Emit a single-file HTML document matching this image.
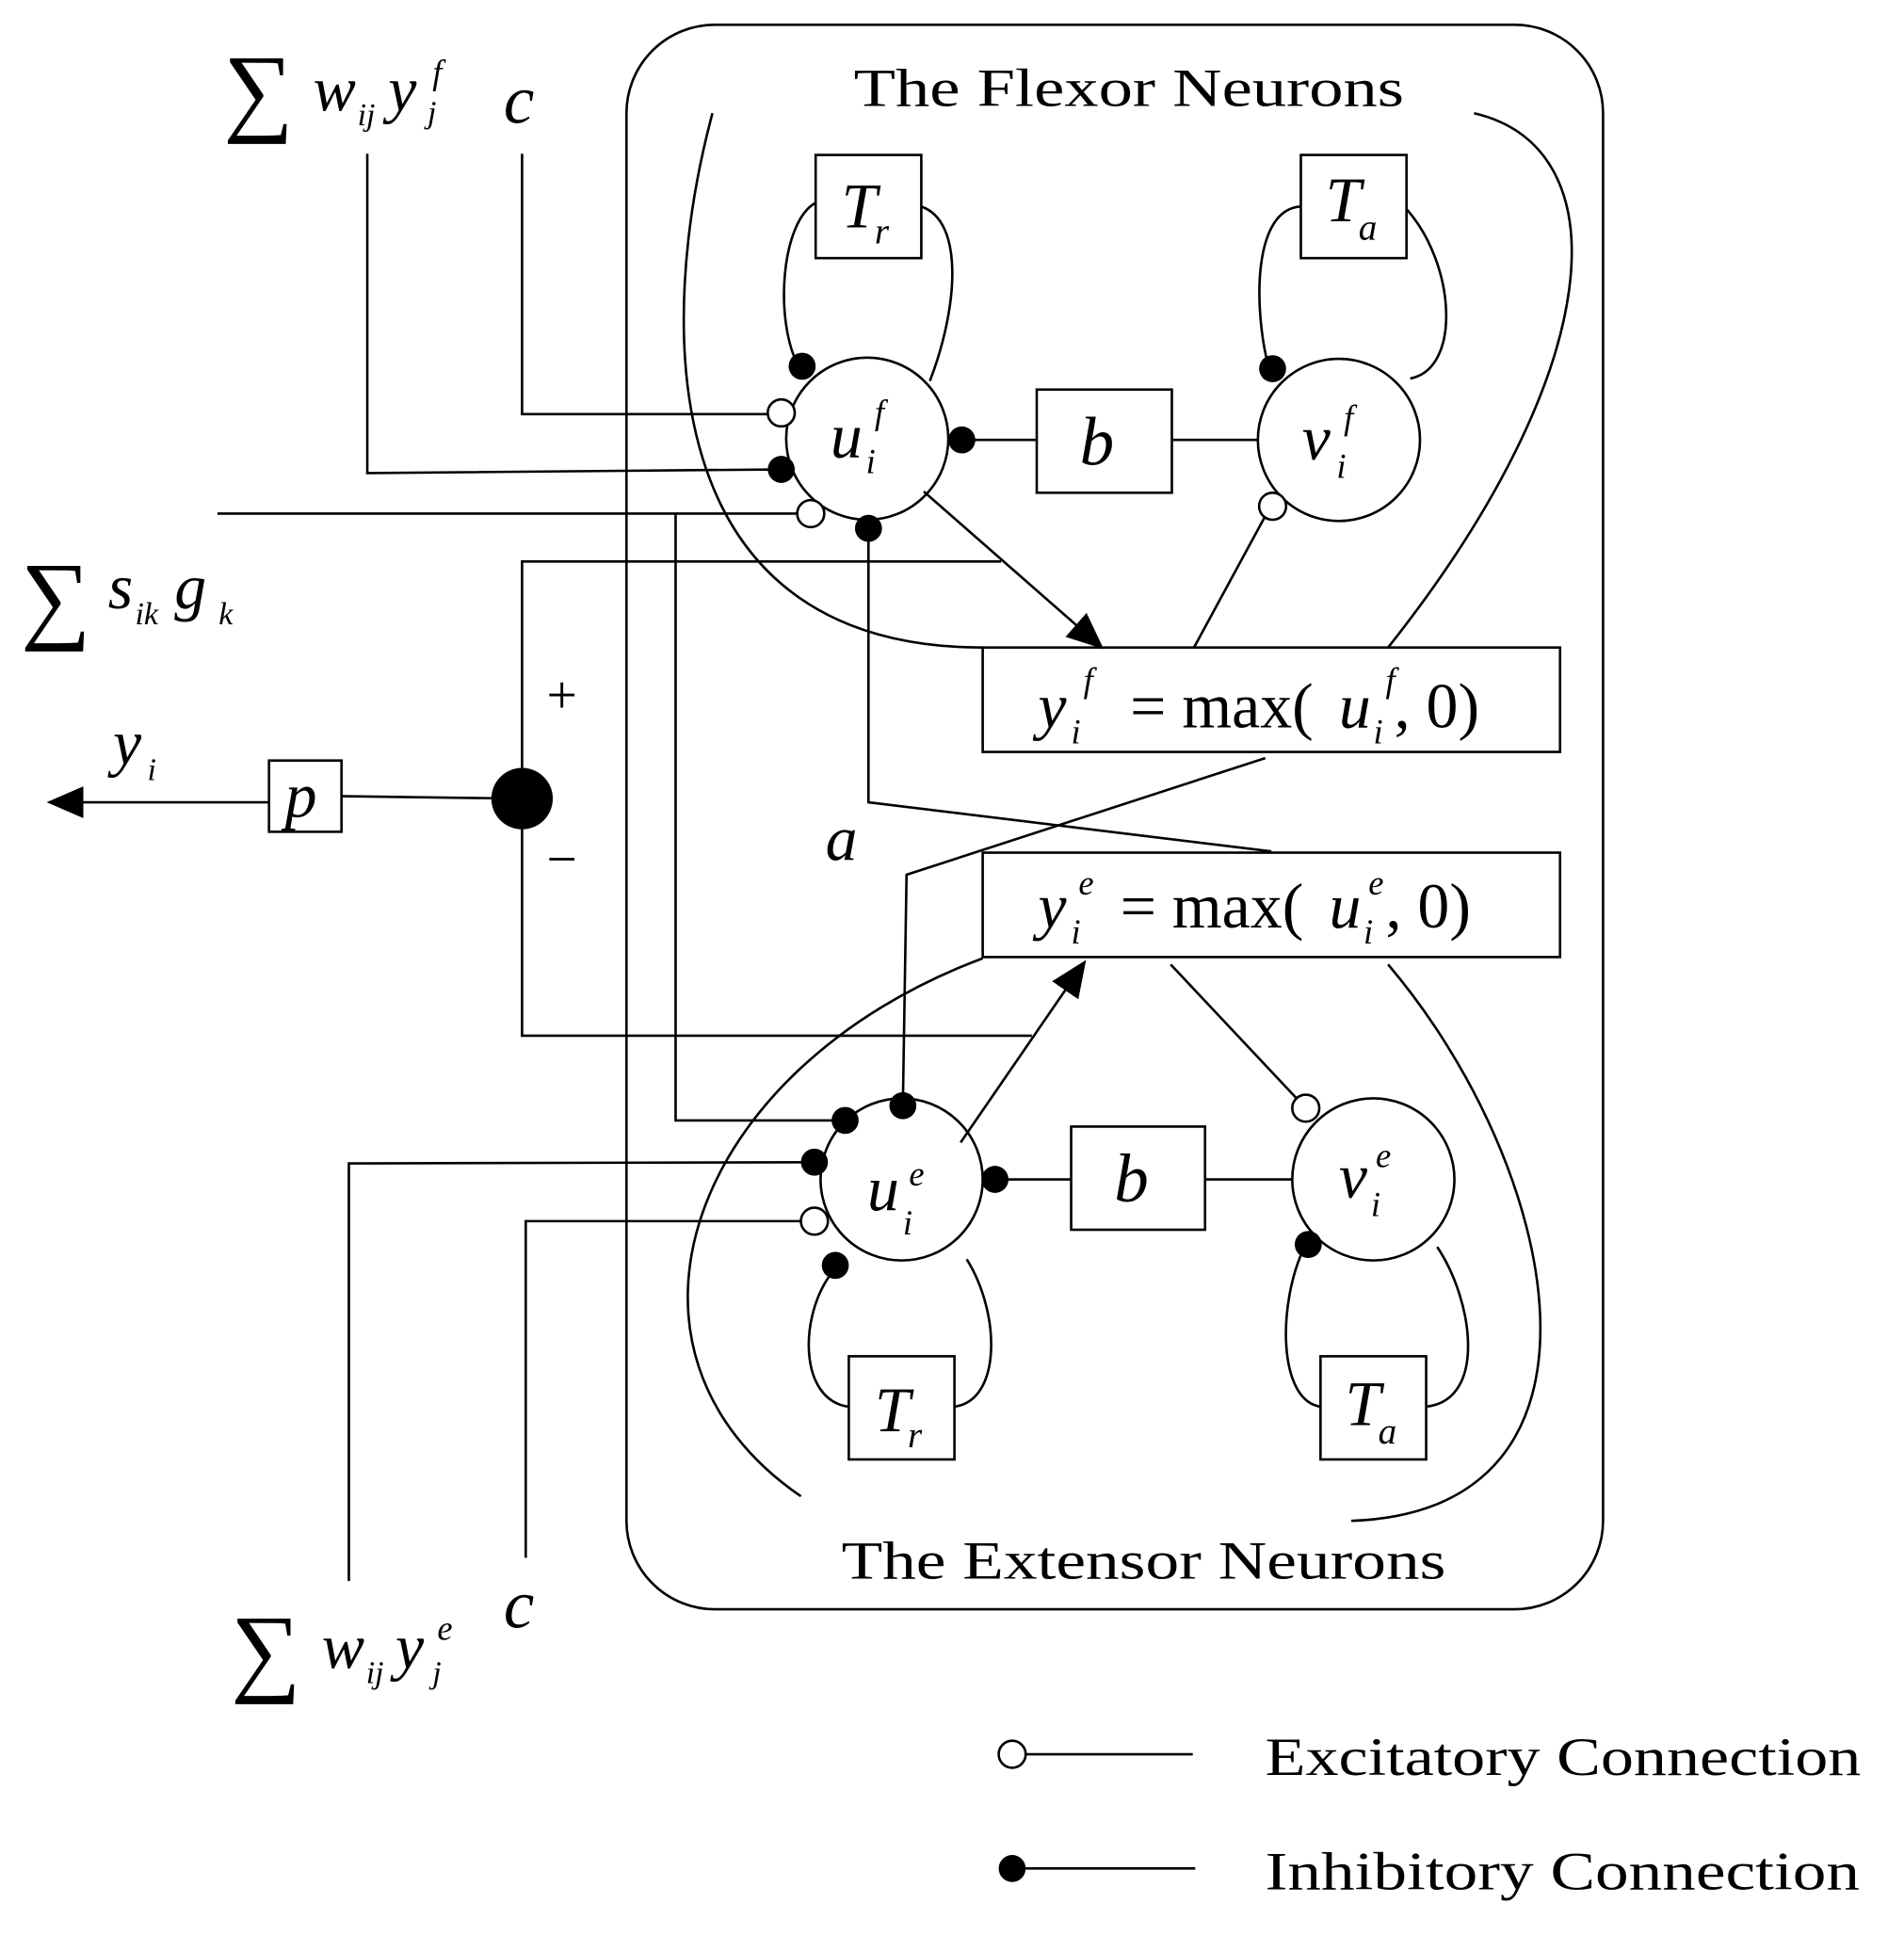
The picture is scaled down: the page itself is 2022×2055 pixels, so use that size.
<!DOCTYPE html>
<html><head><meta charset="utf-8"><style>
html,body{margin:0;padding:0;background:#fff;}
svg{display:block;}
text{font-family:"Liberation Serif",serif;fill:#000;}
.i{font-style:italic;}
</style></head><body>
<svg width="2022" height="2055" viewBox="0 0 1550 1575" xmlns="http://www.w3.org/2000/svg">
<defs>
<marker id="ar2" markerWidth="30" markerHeight="26" refX="28" refY="13" orient="auto" markerUnits="userSpaceOnUse"><path d="M0,0 L30,13 L0,26 z" fill="#000"/></marker></defs>
<g fill="none" stroke="#000" stroke-width="2">
<rect x="510" y="20" width="795" height="1290" rx="72"/>
<circle cx="706" cy="357" r="66"/><circle cx="1090" cy="358" r="66"/>
<circle cx="734" cy="960" r="66"/><circle cx="1118" cy="960" r="66"/>
<rect x="664" y="126" width="86" height="84"/><rect x="1059" y="126" width="86" height="84"/>
<rect x="844" y="317" width="110" height="84"/><rect x="872" y="917" width="109" height="84"/>
<rect x="691" y="1104" width="86" height="84"/><rect x="1075" y="1104" width="86" height="84"/>
<rect x="800" y="527" width="470" height="85"/><rect x="800" y="694" width="470" height="85"/>
<rect x="219" y="619" width="59" height="58"/>
<polyline points="425,125 425,337 636,337"/>
<polyline points="299,125 299,385 636,382"/>
<line x1="177" y1="418" x2="660" y2="418"/>
<polyline points="707,430 707,653 1035,693"/>
<path d="M650,298 C630,260 636,180 664,165"/>
<path d="M750,168 C785,180 780,250 757,310"/>
<line x1="783" y1="358" x2="844" y2="358"/><line x1="954" y1="358" x2="1024" y2="358"/>
<path d="M1033,300 C1020,250 1020,170 1059,168"/>
<path d="M1145,170 C1185,215 1190,300 1148,308"/>
<line x1="1030" y1="420" x2="972" y2="527"/>
<line x1="752" y1="400" x2="897" y2="527" marker-end="url(#ar2)"/>
<polyline points="815,457 425,457 425,843 840,843"/>
<polyline points="550,418 550,912 688,912"/>
<polyline points="284,1287 284,947 663,946"/>
<polyline points="428,1268 428,994 663,994"/>
<path d="M678,1035 C650,1070 650,1140 691,1145"/>
<path d="M787,1025 C815,1070 815,1140 777,1145"/>
<polyline points="735,900 738,712 1030,617"/>
<line x1="782" y1="930" x2="883" y2="783" marker-end="url(#ar2)"/>
<line x1="810" y1="960" x2="872" y2="960"/><line x1="981" y1="960" x2="1052" y2="960"/>
<line x1="953" y1="785" x2="1063" y2="902"/>
<path d="M1062,1015 C1040,1060 1040,1140 1075,1145"/>
<path d="M1170,1015 C1200,1060 1210,1140 1161,1145"/>
<path d="M580,92 C535,260 530,527 800,527"/>
<path d="M1200,92 C1320,120 1310,300 1130,527"/>
<path d="M800,780 C560,870 480,1100 652,1218"/>
<path d="M1130,785 C1270,950 1330,1230 1100,1238"/>
<line x1="278" y1="648" x2="425" y2="650"/>
<line x1="219" y1="653" x2="40" y2="653" marker-end="url(#ar2)"/>
<line x1="824" y1="1428" x2="971" y2="1428"/><line x1="824" y1="1521" x2="973" y2="1521"/>
</g>
<g fill="#fff" stroke="#000" stroke-width="2">
<circle cx="636" cy="336" r="11"/><circle cx="660" cy="418" r="11"/><circle cx="1036" cy="412" r="11"/>
<circle cx="663" cy="994" r="11"/><circle cx="1063" cy="902" r="11"/><circle cx="824" cy="1428" r="11"/>
</g>
<g fill="#000">
<circle cx="653" cy="298" r="11"/><circle cx="636" cy="382" r="11"/><circle cx="707" cy="430" r="11"/>
<circle cx="783" cy="358" r="11"/><circle cx="1036" cy="300" r="11"/>
<circle cx="688" cy="912" r="11"/><circle cx="663" cy="946" r="11"/><circle cx="680" cy="1030" r="11"/>
<circle cx="735" cy="900" r="11"/><circle cx="810" cy="960" r="11"/><circle cx="1065" cy="1013" r="11"/>
<circle cx="824" cy="1521" r="11"/><circle cx="425" cy="650" r="25"/>
</g>
<text x="695" y="86" font-size="44" textLength="448" lengthAdjust="spacingAndGlyphs">The Flexor  Neurons</text>
<text x="685" y="1285" font-size="44" textLength="492" lengthAdjust="spacingAndGlyphs">The Extensor Neurons</text>
<text x="1030" y="1445" font-size="44" textLength="485" lengthAdjust="spacingAndGlyphs">Excitatory Connection</text>
<text x="1030" y="1538" font-size="44" textLength="484" lengthAdjust="spacingAndGlyphs">Inhibitory Connection</text>
<text x="685" y="185" font-size="52" class="i">T</text><text x="712" y="198" font-size="30" class="i">r</text>
<text x="1079" y="180" font-size="52" class="i">T</text><text x="1106" y="195" font-size="30" class="i">a</text>
<text x="712" y="1165" font-size="52" class="i">T</text><text x="739" y="1178" font-size="30" class="i">r</text>
<text x="1095" y="1160" font-size="52" class="i">T</text><text x="1122" y="1175" font-size="30" class="i">a</text>
<text x="879" y="378" font-size="56" class="i">b</text>
<text x="907" y="978" font-size="56" class="i">b</text>
<text x="676" y="372" font-size="52" class="i">u</text><text x="705" y="385" font-size="28" class="i">i</text><text x="712" y="345" font-size="28" class="i">f</text>
<text x="1060" y="374" font-size="52" class="i">v</text><text x="1088" y="389" font-size="28" class="i">i</text><text x="1094" y="349" font-size="28" class="i">f</text>
<text x="706" y="985" font-size="52" class="i">u</text><text x="735" y="1005" font-size="28" class="i">i</text><text x="740" y="965" font-size="28" class="i">e</text>
<text x="1090" y="975" font-size="52" class="i">v</text><text x="1116" y="990" font-size="28" class="i">i</text><text x="1120" y="950" font-size="28" class="i">e</text>
<text x="845" y="592" font-size="52" class="i">y</text><text x="872" y="605" font-size="28" class="i">i</text><text x="882" y="563" font-size="28" class="i">f</text>
<text x="920" y="592" font-size="52">= max(</text><text x="1090" y="592" font-size="52" class="i">u</text><text x="1118" y="605" font-size="28" class="i">i</text><text x="1128" y="563" font-size="28" class="i">f</text><text x="1135" y="592" font-size="52">, 0)</text>
<text x="845" y="755" font-size="52" class="i">y</text><text x="872" y="768" font-size="28" class="i">i</text><text x="878" y="728" font-size="28" class="i">e</text>
<text x="912" y="755" font-size="52">= max(</text><text x="1082" y="755" font-size="52" class="i">u</text><text x="1110" y="768" font-size="28" class="i">i</text><text x="1114" y="728" font-size="28" class="i">e</text><text x="1128" y="755" font-size="52">, 0)</text>
<text x="182" y="100" font-size="80">∑</text><text x="255" y="90" font-size="52" class="i">w</text><text x="291" y="102" font-size="26" class="i">ij</text><text x="316" y="90" font-size="52" class="i">y</text><text x="348" y="100" font-size="26" class="i">j</text><text x="352" y="68" font-size="28" class="i">f</text>
<text x="410" y="100" font-size="56" class="i">c</text>
<text x="17" y="513" font-size="80">∑</text><text x="88" y="495" font-size="52" class="i">s</text><text x="110" y="508" font-size="26" class="i">ik</text><text x="142" y="495" font-size="52" class="i">g</text><text x="178" y="508" font-size="26" class="i">k</text>
<text x="445" y="580" font-size="44">+</text><text x="445" y="714" font-size="44">−</text>
<text x="92" y="622" font-size="52" class="i">y</text><text x="120" y="635" font-size="26" class="i">i</text>
<text x="232" y="665" font-size="52" class="i">p</text>
<text x="672" y="700" font-size="52" class="i">a</text>
<text x="188" y="1370" font-size="80">∑</text><text x="262" y="1358" font-size="52" class="i">w</text><text x="298" y="1370" font-size="26" class="i">ij</text><text x="322" y="1358" font-size="52" class="i">y</text><text x="352" y="1370" font-size="26" class="i">j</text><text x="356" y="1335" font-size="28" class="i">e</text>
<text x="410" y="1325" font-size="56" class="i">c</text>
</svg>
</body></html>
